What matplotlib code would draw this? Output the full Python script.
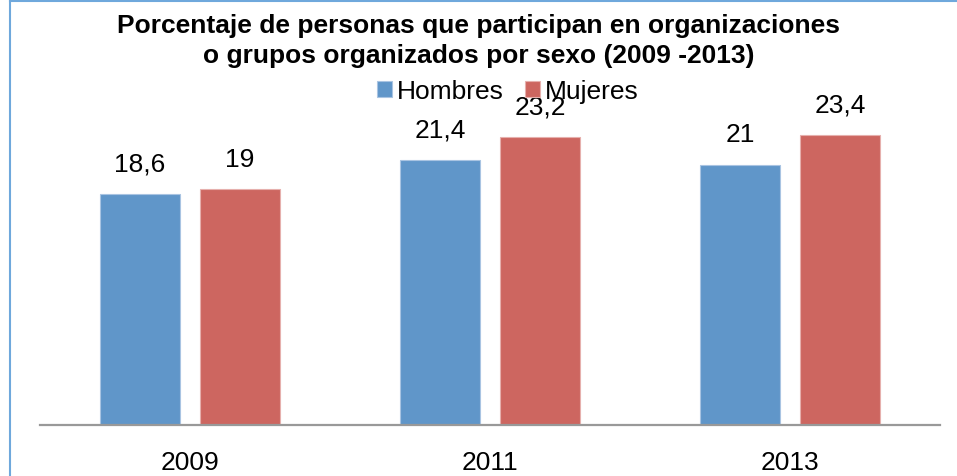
import numpy as np
import matplotlib.pyplot as plt
from matplotlib.lines import Line2D

years = ['2009', '2011', '2013']
hombres = [18.6, 21.4, 21.0]
mujeres = [19.0, 23.2, 23.4]
labels_h = ['18,6', '21,4', '21']
labels_m = ['19', '23,2', '23,4']

plt.rcParams['font.family'] = ['Liberation Sans', 'DejaVu Sans']

fig = plt.figure(figsize=(9.57, 4.77), dpi=100)
ax = fig.add_axes([40 / 957, 51 / 477, 900 / 957, 310 / 477])

x = np.arange(len(years))
w = 80 / 300
b1 = ax.bar(x - 50 / 300, hombres, w, color='#6096c9', edgecolor='#a9c4e2', linewidth=0.8, label='Hombres')
b2 = ax.bar(x + 50 / 300, mujeres, w, color='#cd6660', edgecolor='#e6b0ad', linewidth=0.8, label='Mujeres')

# value labels above bars
for bars, labs in [(b1, labels_h), (b2, labels_m)]:
    for bar, lab in zip(bars, labs):
        ax.annotate(lab, (bar.get_x() + bar.get_width() / 2, bar.get_height()),
                    xytext=(0, 22), textcoords='offset points',
                    ha='center', va='center', fontsize=19)

ax.set_xlim(-0.5, 2.5)
ax.set_ylim(0, 25)
ax.set_xticks(x)
ax.set_xticklabels(years, fontsize=19)
ax.tick_params(axis='x', length=0, pad=18)
ax.set_yticks([])
for s in ['top', 'right', 'left']:
    ax.spines[s].set_visible(False)
ax.spines['bottom'].set_color('#999999')
ax.spines['bottom'].set_linewidth(1.6)

fig.text(0.5, 1 - 41 / 477, 'Porcentaje de personas que participan en organizaciones\no grupos organizados por sexo (2009 -2013)',
         ha='center', va='center', fontsize=19, fontweight='bold', linespacing=1.35)

fig.legend(handles=[b1, b2], loc='center', bbox_to_anchor=(508 / 957, 1 - 92 / 477), ncol=2,
           frameon=False, fontsize=19, handlelength=0.55, handleheight=0.55,
           handletextpad=0.2, columnspacing=0.8)

# outer frame lines
fig.add_artist(Line2D([10 / 957, 10 / 957], [0, 1], color='#6fa8dc', lw=1.5))
fig.add_artist(Line2D([10 / 957, 1], [1 - 2 / 477, 1 - 2 / 477], color='#6fa8dc', lw=1.5))

fig.savefig('out.png', dpi=100)
